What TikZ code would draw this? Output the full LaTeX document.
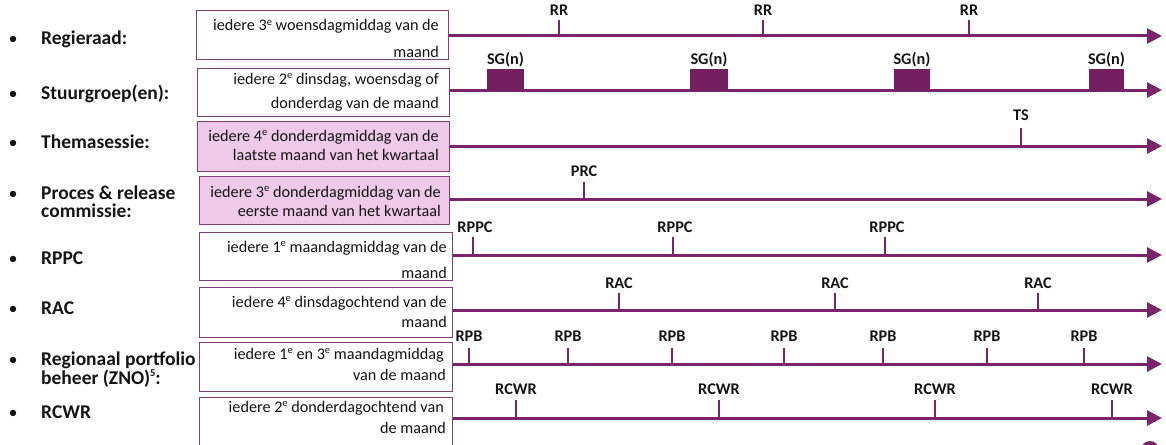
\documentclass[tikz,border=0pt]{standalone}
\usepackage{fontspec}
\setmainfont{Carlito}
\usetikzlibrary{arrows.meta}
\definecolor{lineviolet}{RGB}{122,36,108}
\definecolor{boxviolet}{RGB}{128,62,118}
\definecolor{sgfill}{RGB}{116,32,96}
\definecolor{pinkfill}{RGB}{238,201,232}
\definecolor{txt}{RGB}{20,20,20}
% small raised ordinal suffix
\newcommand\ordsuf[1]{\raisebox{0.36em}{\fontsize{10.5}{10.5}\selectfont #1}}
\tikzset{
  rowlabel/.style={font=\fontsize{19.5}{20}\selectfont\bfseries, anchor=base west, inner sep=0pt, text=txt},
  bulletmark/.style={font=\fontsize{18}{19}\selectfont, anchor=base, inner sep=0pt, text=txt},
  freqbox/.style={draw=boxviolet, line width=1.3pt, fill=white, anchor=north west, inner sep=0pt},
  pinkbox/.style={freqbox, fill=pinkfill},
  boxtext/.style={font=\fontsize{16.2}{19}\selectfont, anchor=base east, inner sep=0pt, text=txt},
  timeline/.style={draw=lineviolet, line width=3pt, -{Triangle[length=15pt,width=15pt]}},
  tickmark/.style={draw=lineviolet, line width=2.6pt},
  ticklabel/.style={font=\fontsize{16.3}{17}\selectfont\bfseries, anchor=base, inner sep=0pt, text=txt},
  sgblock/.style={fill=sgfill, draw=none, anchor=south west, inner sep=0pt, minimum height=22pt}
}
\begin{document}
\begin{tikzpicture}[x=1pt, y=-1pt]
\useasboundingbox (0,0) rectangle (1166,444);

% ---- row titles with bullets
\node[bulletmark] (u1) at (13,45) {•};
\node[rowlabel] (l1) at (41,45) {Regieraad:};
\node[bulletmark] (u2) at (13,99) {•};
\node[rowlabel] (l2) at (41,99) {Stuurgroep(en):};
\node[bulletmark] (u3) at (13,148) {•};
\node[rowlabel] (l3) at (41,148) {Themasessie:};
\node[bulletmark] (u4) at (13,199) {•};
\node[rowlabel] (l4a) at (41,199) {Proces \& release};
\node[rowlabel] (l4b) at (41,217) {commissie:};
\node[bulletmark] (u5) at (13,264) {•};
\node[rowlabel] (l5) at (41,264) {RPPC};
\node[bulletmark] (u6) at (13,314) {•};
\node[rowlabel] (l6) at (41,314) {RAC};
\node[bulletmark] (u7) at (13,365) {•};
\node[rowlabel] (l7a) at (41,365) {Regionaal portfolio};
\node[rowlabel] (l7b) at (41,384) {beheer (ZNO)\ordsuf{5}:};
\node[bulletmark] (u8) at (13,418) {•};
\node[rowlabel] (l8) at (41,418) {RCWR};

% ---- frequency boxes
\node[freqbox, minimum width=252pt, minimum height=49pt] (b1) at (196,10) {};
\node[freqbox, minimum width=252pt, minimum height=48pt] (b2) at (197,68) {};
\node[pinkbox, minimum width=252pt, minimum height=50pt] (b3) at (197,121) {};
\node[pinkbox, minimum width=250pt, minimum height=48pt] (b4) at (199,176) {};
\node[freqbox, minimum width=253pt, minimum height=48pt] (b5) at (199,232) {};
\node[freqbox, minimum width=253pt, minimum height=50pt] (b6) at (199,287) {};
\node[freqbox, minimum width=253pt, minimum height=49pt] (b7) at (199,342) {};
\node[freqbox, minimum width=253pt, minimum height=52pt] (b8) at (199,397) {};

\node[boxtext] (t1a) at (439,31) {iedere 3\ordsuf{e} woensdagmiddag van de};
\node[boxtext] (t1b) at (439,57) {maand};
\node[boxtext] (t2a) at (439,84) {iedere 2\ordsuf{e} dinsdag, woensdag of};
\node[boxtext] (t2b) at (439,108) {donderdag van de maand};
\node[boxtext] (t3a) at (439,141) {iedere 4\ordsuf{e} donderdagmiddag van de};
\node[boxtext] (t3b) at (439,160) {laatste maand van het kwartaal};
\node[boxtext] (t4a) at (441,197) {iedere 3\ordsuf{e} donderdagmiddag van de};
\node[boxtext] (t4b) at (441,216) {eerste maand van het kwartaal};
\node[boxtext] (t5a) at (447,252) {iedere 1\ordsuf{e} maandagmiddag van de};
\node[boxtext] (t5b) at (447,278) {maand};
\node[boxtext] (t6a) at (447,307) {iedere 4\ordsuf{e} dinsdagochtend van de};
\node[boxtext] (t6b) at (447,327) {maand};
\node[boxtext] (t7a) at (444,359) {iedere 1\ordsuf{e} en 3\ordsuf{e} maandagmiddag};
\node[boxtext] (t7b) at (446,380) {van de maand};
\node[boxtext] (t8a) at (444,412) {iedere 2\ordsuf{e} donderdagochtend van};
\node[boxtext] (t8b) at (446,433) {de maand};

% ---- arrow ends of the time lines
\coordinate (e1) at (1162,36);
\coordinate (e2) at (1162,90);
\coordinate (e3) at (1162,146);
\coordinate (e4) at (1162,199);
\coordinate (e5) at (1162,255);
\coordinate (e6) at (1162,310);
\coordinate (e7) at (1162,364);
\coordinate (e8) at (1162,418);

% ---- time lines
\draw[timeline] (b1.east |- e1) -- (e1);
\draw[timeline] (b2.east |- e2) -- (e2);
\draw[timeline] (b3.east |- e3) -- (e3);
\draw[timeline] (b4.east |- e4) -- (e4);
\draw[timeline] (b5.east |- e5) -- (e5);
\draw[timeline] (b6.east |- e6) -- (e6);
\draw[timeline] (b7.east |- e7) -- (e7);
\draw[timeline] (b8.east |- e8) -- (e8);

% ---- Regieraad
\foreach \x in {559,763,969} {
  \draw[tickmark] (\x,36) -- (\x,20);
  \node[ticklabel] (rr\x) at (\x,16) {RR};
}
% ---- Stuurgroep blocks
\foreach \x/\w in {487/37,690/38,894/36,1089/35} {
  \node[sgblock, minimum width=\w pt] (sg\x) at (\x,91) {};
  \node[ticklabel] (sgl\x) at (\x+\w/2,64) {SG(n)};
}
% ---- Themasessie
\draw[tickmark] (1021,146) -- (1021,128);
\node[ticklabel] (ts) at (1021,120) {TS};
% ---- Proces & release commissie
\draw[tickmark] (584,199) -- (584,182);
\node[ticklabel] (prc) at (584,176) {PRC};
% ---- RPPC
\foreach \x in {473,673,885} {
  \draw[tickmark] (\x,255) -- (\x,237);
  \node[ticklabel] (rppc\x) at (\x+2,232) {RPPC};
}
% ---- RAC
\foreach \x in {619,835,1038} {
  \draw[tickmark] (\x,310) -- (\x,293);
  \node[ticklabel] (rac\x) at (\x,288) {RAC};
}
% ---- RPB
\foreach \x in {469,568,672,784,883,987,1084} {
  \draw[tickmark] (\x,364) -- (\x,348);
  \node[ticklabel] (rpb\x) at (\x,341) {RPB};
}
% ---- RCWR
\foreach \x in {516,719,935,1112} {
  \draw[tickmark] (\x,418) -- (\x,400);
  \node[ticklabel] (rcwr\x) at (\x,394) {RCWR};
}

% ---- page marker at the lower right corner
\fill[lineviolet] (1150,450) circle (9);
\end{tikzpicture}
\end{document}
